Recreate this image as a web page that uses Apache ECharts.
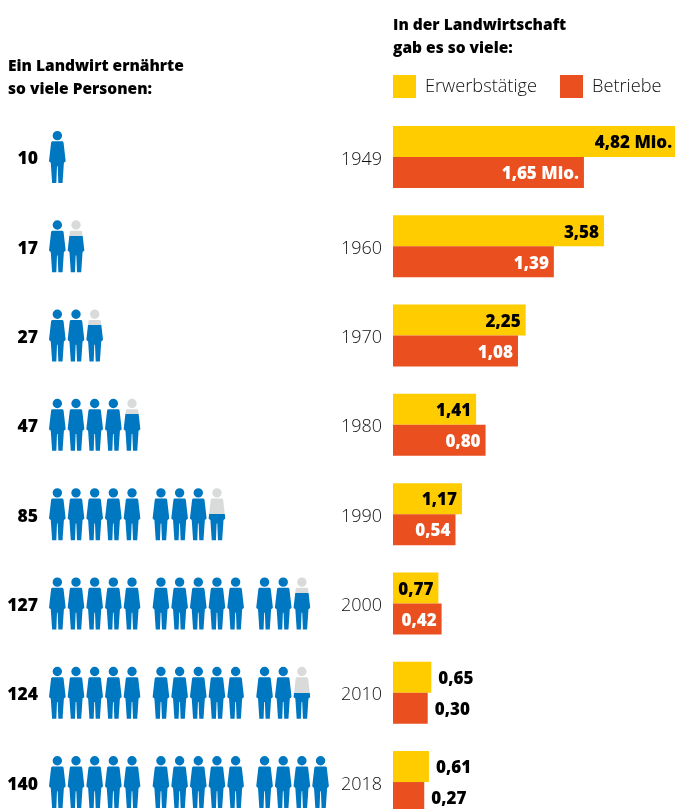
<!DOCTYPE html>
<html>
<head>
<meta charset="utf-8">
<script src="https://cdn.jsdelivr.net/npm/echarts@6/dist/echarts.min.js"></script>
<style>
html, body { margin: 0; padding: 0; background: #fff; overflow: hidden; }
#chart { width: 675px; height: 809px; }
</style>
</head>
<body>
<div id="chart"></div>
<script>
var years = ['1949', '1960', '1970', '1980', '1990', '2000', '2010', '2018'];
var fedPersons = [10, 17, 27, 47, 85, 127, 124, 140];
var iconCount = [1, 2, 3, 5, 9, 13, 13, 14];
var lastIconFill = [1, 0.7, 0.7, 0.7, 0.5, 0.7, 0.5, 1];
var workers = [4.82, 3.58, 2.25, 1.41, 1.17, 0.77, 0.65, 0.61];
var farms = [1.65, 1.39, 1.08, 0.80, 0.54, 0.42, 0.30, 0.27];

var FONT = '"Open Sans", sans-serif';
var BLUE = '#0077c1';
var GREY = '#d9dada';
var YELLOW = '#ffcc00';
var ORANGE = '#ea4f1f';

var PERSON = 'M10.5 14A14 14 0 1 1 38.5 14A14 14 0 1 1 10.5 14Z' +
    'M10 31H39Q42 31 43 35L49 88V91L44 95L40 155H27.5L25.5 105H23.5L21.5 155H9L5 95L0 91V88L6 35Q7 31 10 31Z';

// one icon per 10 persons, groups of five with a gap
var people = [];
iconCount.forEach(function (n, row) {
    for (var i = 0; i < n; i++) {
        people.push([i + Math.floor(i / 5) * 0.55, row, i === n - 1 ? lastIconFill[row] : 1]);
    }
});

function renderPerson(params, api) {
    var c = api.coord([api.value(0), api.value(1)]);
    var f = api.value(2);
    var w = 16.5, h = 52;
    return {
        type: 'path',
        shape: { pathData: PERSON, layout: 'cover', x: c[0] - w / 2, y: c[1] - h / 2, width: w, height: h },
        style: {
            fill: f >= 1 ? BLUE : new echarts.graphic.LinearGradient(0, 0, 0, 1, [
                { offset: 0, color: GREY },
                { offset: 1 - f, color: GREY },
                { offset: 1 - f, color: BLUE },
                { offset: 1, color: BLUE }
            ])
        }
    };
}

function numLabel(value) {
    return value.toFixed(2).replace('.', ',');
}

function barData(values, color, insideCount) {
    return values.map(function (v, i) {
        var inside = i < insideCount;
        return {
            value: v,
            label: {
                position: inside ? 'insideRight' : 'right',
                distance: inside ? 5 : 7,
                offset: [0, 2],
                color: inside ? color : '#000',
                formatter: function () {
                    return numLabel(v) + (i === 0 ? ' Mio.' : '');
                }
            }
        };
    });
}

var chart = echarts.init(document.getElementById('chart'));
var rowTop = 112.3, rowsHeight = 714.4;

chart.setOption({
    animation: false,
    backgroundColor: '#fff',
    textStyle: { fontFamily: FONT },
    title: [
        {
            text: 'Ein Landwirt ernährte\nso viele Personen:',
            left: 8, top: 55, padding: 0,
            textStyle: { fontFamily: FONT, fontSize: 15.5, fontWeight: 800, color: '#000', lineHeight: 23 }
        },
        {
            text: 'In der Landwirtschaft\ngab es so viele:',
            left: 393, top: 14, padding: 0,
            textStyle: { fontFamily: FONT, fontSize: 15.5, fontWeight: 800, color: '#000', lineHeight: 23 }
        }
    ],
    legend: {
        left: 393, top: 75, padding: 0,
        itemWidth: 23, itemHeight: 23, itemGap: 23,
        icon: 'rect',
        data: ['Erwerbstätige', 'Betriebe'],
        textStyle: { fontFamily: FONT, fontSize: 18.2, fontWeight: 300, color: '#111', padding: [0, 0, 0, 4], verticalAlign: 'top', lineHeight: 4 }
    },
    grid: [
        { left: 48, top: rowTop, width: 298.7, height: rowsHeight, outerBoundsMode: 'none' },
        { left: 393, top: rowTop, width: 290, height: rowsHeight, outerBoundsMode: 'none' }
    ],
    xAxis: [
        { gridIndex: 0, type: 'value', min: -0.5, max: 15.5, show: false },
        { gridIndex: 1, type: 'value', min: 0, max: 4.92, show: false },
        { gridIndex: 1, type: 'value', min: 0, max: 2.506, show: false }
    ],
    yAxis: [
        {
            gridIndex: 0, type: 'category', inverse: true, data: fedPersons,
            axisLine: { show: false }, axisTick: { show: false },
            axisLabel: { margin: 10, fontSize: 17.5, fontWeight: 800, color: '#000', fontFamily: FONT, verticalAlign: 'top', lineHeight: 5 }
        },
        {
            gridIndex: 1, type: 'category', inverse: true, data: years,
            axisLine: { show: false }, axisTick: { show: false },
            axisLabel: { margin: 11, fontSize: 18, fontWeight: 300, color: '#111', fontFamily: FONT, verticalAlign: 'top', lineHeight: 5 }
        }
    ],
    series: [
        {
            type: 'custom', xAxisIndex: 0, yAxisIndex: 0,
            renderItem: renderPerson, data: people, silent: true, clip: false
        },
        {
            name: 'Erwerbstätige', type: 'bar', xAxisIndex: 1, yAxisIndex: 1,
            barWidth: 31, barGap: '0%',
            itemStyle: { color: YELLOW },
            label: { show: true, fontSize: 17, fontWeight: 800, fontFamily: FONT },
            data: barData(workers, '#000', 6)
        },
        {
            name: 'Betriebe', type: 'bar', xAxisIndex: 2, yAxisIndex: 1,
            barWidth: 31, barGap: '0%',
            itemStyle: { color: ORANGE },
            label: { show: true, fontSize: 17, fontWeight: 800, fontFamily: FONT },
            data: barData(farms, '#fff', 6)
        }
    ]
});
</script>
</body>
</html>
